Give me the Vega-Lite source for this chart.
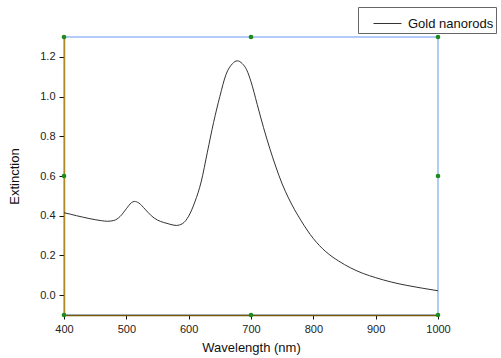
{
  "$schema": "https://vega.github.io/schema/vega-lite/v6.json",
  "width": 374,
  "height": 278,
  "padding": {"left": 64, "top": 37, "right": 63, "bottom": 43},
  "autosize": {"type": "none"},
  "background": "white",
  "config": {
    "font": "Liberation Sans",
    "view": {"stroke": "#b3cbf7", "strokeWidth": 2},
    "axis": {"grid": false, "labelFlush": false, "labelFont": "Liberation Sans", "titleFont": "Liberation Sans", "labelColor": "#222", "titleColor": "#111", "titleFontWeight": "normal", "tickColor": "#111", "zindex": 1}
  },
  "datasets": {
    "spectrum": [
      {"wavelength": 400, "extinction": 0.415, "series": "Gold nanorods"},
      {"wavelength": 410, "extinction": 0.408, "series": "Gold nanorods"},
      {"wavelength": 420, "extinction": 0.400, "series": "Gold nanorods"},
      {"wavelength": 430, "extinction": 0.393, "series": "Gold nanorods"},
      {"wavelength": 440, "extinction": 0.386, "series": "Gold nanorods"},
      {"wavelength": 450, "extinction": 0.380, "series": "Gold nanorods"},
      {"wavelength": 460, "extinction": 0.375, "series": "Gold nanorods"},
      {"wavelength": 470, "extinction": 0.372, "series": "Gold nanorods"},
      {"wavelength": 480, "extinction": 0.376, "series": "Gold nanorods"},
      {"wavelength": 490, "extinction": 0.396, "series": "Gold nanorods"},
      {"wavelength": 500, "extinction": 0.435, "series": "Gold nanorods"},
      {"wavelength": 508, "extinction": 0.465, "series": "Gold nanorods"},
      {"wavelength": 513, "extinction": 0.472, "series": "Gold nanorods"},
      {"wavelength": 520, "extinction": 0.464, "series": "Gold nanorods"},
      {"wavelength": 530, "extinction": 0.433, "series": "Gold nanorods"},
      {"wavelength": 540, "extinction": 0.400, "series": "Gold nanorods"},
      {"wavelength": 550, "extinction": 0.378, "series": "Gold nanorods"},
      {"wavelength": 560, "extinction": 0.366, "series": "Gold nanorods"},
      {"wavelength": 570, "extinction": 0.357, "series": "Gold nanorods"},
      {"wavelength": 580, "extinction": 0.351, "series": "Gold nanorods"},
      {"wavelength": 590, "extinction": 0.360, "series": "Gold nanorods"},
      {"wavelength": 600, "extinction": 0.398, "series": "Gold nanorods"},
      {"wavelength": 610, "extinction": 0.470, "series": "Gold nanorods"},
      {"wavelength": 620, "extinction": 0.570, "series": "Gold nanorods"},
      {"wavelength": 630, "extinction": 0.720, "series": "Gold nanorods"},
      {"wavelength": 640, "extinction": 0.870, "series": "Gold nanorods"},
      {"wavelength": 650, "extinction": 1.000, "series": "Gold nanorods"},
      {"wavelength": 660, "extinction": 1.112, "series": "Gold nanorods"},
      {"wavelength": 670, "extinction": 1.165, "series": "Gold nanorods"},
      {"wavelength": 678, "extinction": 1.180, "series": "Gold nanorods"},
      {"wavelength": 686, "extinction": 1.166, "series": "Gold nanorods"},
      {"wavelength": 693, "extinction": 1.135, "series": "Gold nanorods"},
      {"wavelength": 700, "extinction": 1.075, "series": "Gold nanorods"},
      {"wavelength": 710, "extinction": 0.960, "series": "Gold nanorods"},
      {"wavelength": 720, "extinction": 0.845, "series": "Gold nanorods"},
      {"wavelength": 730, "extinction": 0.740, "series": "Gold nanorods"},
      {"wavelength": 740, "extinction": 0.645, "series": "Gold nanorods"},
      {"wavelength": 750, "extinction": 0.560, "series": "Gold nanorods"},
      {"wavelength": 760, "extinction": 0.490, "series": "Gold nanorods"},
      {"wavelength": 770, "extinction": 0.430, "series": "Gold nanorods"},
      {"wavelength": 780, "extinction": 0.377, "series": "Gold nanorods"},
      {"wavelength": 790, "extinction": 0.328, "series": "Gold nanorods"},
      {"wavelength": 800, "extinction": 0.285, "series": "Gold nanorods"},
      {"wavelength": 810, "extinction": 0.249, "series": "Gold nanorods"},
      {"wavelength": 820, "extinction": 0.219, "series": "Gold nanorods"},
      {"wavelength": 830, "extinction": 0.194, "series": "Gold nanorods"},
      {"wavelength": 840, "extinction": 0.173, "series": "Gold nanorods"},
      {"wavelength": 850, "extinction": 0.154, "series": "Gold nanorods"},
      {"wavelength": 860, "extinction": 0.137, "series": "Gold nanorods"},
      {"wavelength": 870, "extinction": 0.122, "series": "Gold nanorods"},
      {"wavelength": 880, "extinction": 0.109, "series": "Gold nanorods"},
      {"wavelength": 890, "extinction": 0.098, "series": "Gold nanorods"},
      {"wavelength": 900, "extinction": 0.088, "series": "Gold nanorods"},
      {"wavelength": 925, "extinction": 0.066, "series": "Gold nanorods"},
      {"wavelength": 950, "extinction": 0.049, "series": "Gold nanorods"},
      {"wavelength": 975, "extinction": 0.035, "series": "Gold nanorods"},
      {"wavelength": 1000, "extinction": 0.022, "series": "Gold nanorods"}
    ],
    "handles": [
      {"wavelength": 400, "extinction": 1.3},
      {"wavelength": 700, "extinction": 1.3},
      {"wavelength": 1000, "extinction": 1.3},
      {"wavelength": 400, "extinction": 0.6},
      {"wavelength": 1000, "extinction": 0.6},
      {"wavelength": 400, "extinction": -0.1},
      {"wavelength": 700, "extinction": -0.1},
      {"wavelength": 1000, "extinction": -0.1}
    ]
  },
  "layer": [
    {
      "data": {"name": "spectrum"},
      "mark": {"type": "line", "strokeWidth": 1, "interpolate": "monotone", "clip": true},
      "encoding": {
        "x": {
          "field": "wavelength", "type": "quantitative",
          "scale": {"domain": [400, 1000], "nice": false, "zero": false},
          "axis": {
            "title": "Wavelength (nm)",
            "values": [400, 450, 500, 550, 600, 650, 700, 750, 800, 850, 900, 950, 1000],
            "labelExpr": "datum.value % 100 == 0 ? format(datum.value, 'd') : ''",
            "tickSize": {"condition": {"test": "datum.value % 100 != 0", "value": 3}, "value": 4},
            "labelPadding": 4,
            "labelFontSize": 11,
            "titleFontSize": 13,
            "titlePadding": 7,
            "domainColor": "#765800",
            "domainWidth": 1.5
          }
        },
        "y": {
          "field": "extinction", "type": "quantitative",
          "scale": {"domain": [-0.1, 1.3], "nice": false, "zero": false},
          "axis": {
            "title": "Extinction",
            "values": [0, 0.1, 0.2, 0.3, 0.4, 0.5, 0.6, 0.7, 0.8, 0.9, 1.0, 1.1, 1.2],
            "labelExpr": "round(datum.value * 10) % 2 == 1 ? '' : format(datum.value, '.1f')",
            "tickSize": {"condition": {"test": "round(datum.value * 10) % 2 == 1", "value": 3}, "value": 5},
            "labelPadding": 4,
            "labelFontSize": 11,
            "titleFontSize": 13,
            "titlePadding": 18,
            "domainColor": "#ad8a22",
            "domainWidth": 1.5
          }
        },
        "color": {
          "field": "series", "type": "nominal",
          "scale": {"range": ["#333333"]},
          "legend": {
            "title": null,
            "orient": "none",
            "legendX": 294,
            "legendY": -30,
            "symbolType": "stroke",
            "symbolSize": 784,
            "symbolStrokeWidth": 1,
            "labelFontSize": 13,
            "labelFont": "Liberation Sans",
            "labelColor": "#111",
            "labelOffset": 6,
            "strokeColor": "#666",
            "padding": 2,
            "symbolOffset": 13
          }
        }
      }
    },
    {
      "data": {"name": "handles"},
      "mark": {"type": "point", "filled": true, "color": "#1f8a1f", "size": 22, "opacity": 1, "clip": false},
      "encoding": {
        "x": {"field": "wavelength", "type": "quantitative"},
        "y": {"field": "extinction", "type": "quantitative"}
      }
    }
  ]
}
